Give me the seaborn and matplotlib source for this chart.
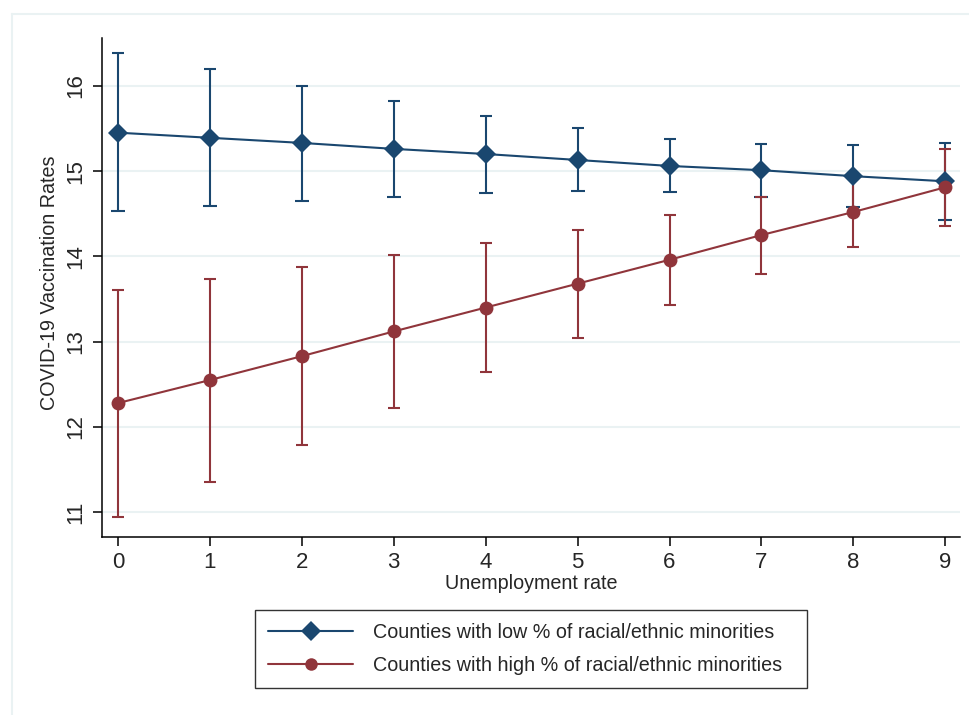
import numpy as np
import pandas as pd
import seaborn as sns
import matplotlib.pyplot as plt
from matplotlib.lines import Line2D

# unemployment rate levels
unemployment = [0, 1, 2, 3, 4, 5, 6, 7, 8, 9]

# counties with low % minorities: predicted rate and 95% CI
low_mean = [15.45, 15.39, 15.33, 15.26, 15.20, 15.13, 15.06, 15.01, 14.94, 14.88]
low_lo = [14.53, 14.59, 14.65, 14.70, 14.74, 14.77, 14.76, 14.70, 14.58, 14.43]
low_hi = [16.39, 16.20, 16.00, 15.82, 15.65, 15.50, 15.38, 15.32, 15.31, 15.33]

# counties with high % minorities
high_mean = [12.28, 12.55, 12.83, 13.12, 13.40, 13.68, 13.96, 14.25, 14.52, 14.81]
high_lo = [10.94, 11.36, 11.79, 12.22, 12.64, 13.04, 13.43, 13.79, 14.11, 14.36]
high_hi = [13.61, 13.74, 13.88, 14.02, 14.16, 14.31, 14.49, 14.70, 14.93, 15.26]

group_names = ["Counties with low % of racial/ethnic minorities",
               "Counties with high % of racial/ethnic minorities"]
colors = ["#1a476f", "#90353b"]
markers = ["D", "o"]

df = pd.concat([
    pd.DataFrame({"x": unemployment, "y": low_mean, "lo": low_lo, "hi": low_hi, "group": group_names[0]}),
    pd.DataFrame({"x": unemployment, "y": high_mean, "lo": high_lo, "hi": high_hi, "group": group_names[1]}),
])

sns.set_theme(style="white")
plt.rcParams["font.family"] = ["Liberation Sans", "DejaVu Sans"]

fig = plt.figure(figsize=(9.7, 7.15), dpi=100)
ax = fig.add_axes([102 / 970, 1 - 537 / 715, 858 / 970, 499 / 715])

# confidence intervals (drawn under the lines)
for name, col in zip(group_names, colors):
    sub = df[df["group"] == name]
    ax.errorbar(sub["x"], sub["y"], yerr=[sub["y"] - sub["lo"], sub["hi"] - sub["y"]],
                fmt="none", ecolor=col, elinewidth=1.5, capsize=4.5, capthick=1.5, zorder=2)

sns.lineplot(data=df, x="x", y="y", hue="group", style="group",
             palette=dict(zip(group_names, colors)),
             markers=dict(zip(group_names, markers)), dashes=False,
             markersize=10, markeredgewidth=0, linewidth=1.5, ax=ax, legend=False, zorder=3)
for line, ms in zip(ax.lines, [10, 9]):
    line.set_markersize(ms)

ax.set_xlim(-0.174, 9.16)
ax.set_ylim(10.71, 16.56)
ax.set_xticks(unemployment)
ax.set_yticks([11, 12, 13, 14, 15, 16])
ax.yaxis.grid(True, color="#eaf2f3", linewidth=1.5)
ax.set_axisbelow(True)
for s in ["top", "right"]:
    ax.spines[s].set_visible(False)
for s in ["left", "bottom"]:
    ax.spines[s].set_color("black")
    ax.spines[s].set_linewidth(1.1)

ax.tick_params(axis="both", which="major", length=6.5, width=1.1, color="black",
               labelsize=16, left=True, bottom=True)
ax.tick_params(axis="x", pad=4)
ax.tick_params(axis="y", pad=5)
for lab in ax.get_yticklabels():
    lab.set_rotation(90)
    lab.set_va("center")

ax.set_xlabel("Unemployment rate", fontsize=14.2, labelpad=1)
ax.set_ylabel("COVID-19 Vaccination Rates", fontsize=14.2)
ax.yaxis.set_label_coords(-0.05, 0.51)

handles = [Line2D([], [], color=c, marker=m, markersize=ms, markeredgewidth=0, linewidth=1.5)
           for c, m, ms in zip(colors, markers, [10, 9])]
leg = fig.legend(handles, group_names, loc="center", mode="expand",
                 bbox_to_anchor=(255 / 970, 1 - 688 / 715, 552 / 970, 78 / 715),
                 fontsize=14.2, frameon=True, fancybox=False, edgecolor="black",
                 handlelength=4.3, handletextpad=1.0, borderpad=0.67, labelspacing=0.72,
                 borderaxespad=0)
leg.get_frame().set_linewidth(1.0)

# outer graph-region border
fig.add_artist(Line2D([12 / 970, 1], [1 - 14 / 715, 1 - 14 / 715], transform=fig.transFigure,
                      color="#eaf2f3", linewidth=1.5))
fig.add_artist(Line2D([12 / 970, 12 / 970], [0, 1 - 14 / 715], transform=fig.transFigure,
                      color="#eaf2f3", linewidth=1.5))

fig.savefig("out.png", dpi=100)
